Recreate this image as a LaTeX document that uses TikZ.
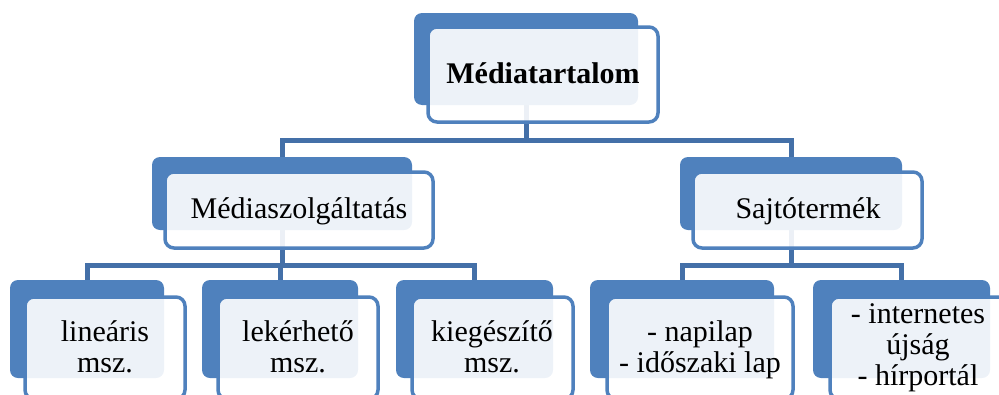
\documentclass[tikz,border=0pt]{standalone}
\usepackage{fontspec}
\setmainfont{Liberation Serif}
\usetikzlibrary{backgrounds}
\definecolor{boxblue}{HTML}{4F81BD}
\definecolor{linkblue}{HTML}{4470A8}
\tikzset{
  boxbase/.style={inner sep=0pt, outer sep=0pt, anchor=north west},
  backbox/.style={boxbase, fill=boxblue, rounded corners=8pt},
  frontbox/.style={boxbase, fill=white, fill opacity=0.9, draw=boxblue, line width=3.5pt, rounded corners=9pt},
  conn/.style={draw=linkblue, line width=5pt, line join=miter},
  lbl/.style={font=\fontsize{30}{31}\selectfont, align=center, anchor=base, inner sep=0pt, text=black},
}
\begin{document}
\begin{tikzpicture}[x=1pt, y=-1pt]
\useasboundingbox (0,0) rectangle (999,394);
\clip (0,0) rectangle (999,394);
\coordinate (ya) at (0,140);
\coordinate (yb) at (0,265);
% back boxes
\node[backbox, minimum width=224pt, minimum height=92pt] (topB) at (414,13) {};
\node[backbox, minimum width=260pt, minimum height=73pt] (mlB) at (152,157) {};
\node[backbox, minimum width=222pt, minimum height=73pt] (mrB) at (680,157) {};
\node[backbox, minimum width=154pt, minimum height=98pt] (b1B) at (10,280) {};
\node[backbox, minimum width=156pt, minimum height=98pt] (b2B) at (202,280) {};
\node[backbox, minimum width=157pt, minimum height=98pt] (b3B) at (396,280) {};
\node[backbox, minimum width=184pt, minimum height=98pt] (b4B) at (590,280) {};
\node[backbox, minimum width=177pt, minimum height=98pt] (b5B) at (813,280) {};
% front boxes
\node[frontbox, minimum width=230pt, minimum height=95pt] (topF) at (428,27) {};
\node[frontbox, minimum width=268pt, minimum height=76pt] (mlF) at (165,172) {};
\node[frontbox, minimum width=229pt, minimum height=76pt] (mrF) at (693,172) {};
\node[frontbox, minimum width=160pt, minimum height=102pt] (b1F) at (25,297) {};
\node[frontbox, minimum width=160pt, minimum height=102pt] (b2F) at (218,297) {};
\node[frontbox, minimum width=161pt, minimum height=102pt] (b3F) at (412,297) {};
\node[frontbox, minimum width=186pt, minimum height=102pt] (b4F) at (607,297) {};
\node[frontbox, minimum width=180pt, minimum height=102pt] (b5F) at (830,297) {};
% connectors behind
\begin{pgfonlayer}{background}
\draw[conn] (topB.south) -- (topB.south |- ya) -| (mlB.north);
\draw[conn] (topB.south) -- (topB.south |- ya) -| (mrB.north);
\draw[conn] (mlB.south) -- (mlB.south |- yb) -| (b1B.north);
\draw[conn] (mlB.south) -- (mlB.south |- yb) -| (b2B.north);
\draw[conn] (mlB.south) -- (mlB.south |- yb) -| (b3B.north);
\draw[conn] (mrB.south) -- (mrB.south |- yb) -| (b4B.north);
\draw[conn] (mrB.south) -- (mrB.south |- yb) -| (b5B.north);
\end{pgfonlayer}
% labels
\node[lbl] (tTop) at (543,83) {\textbf{Médiatartalom}};
\node[lbl] (tMl) at (299,218) {Médiaszolgáltatás};
\node[lbl] (tMr) at (808,218) {Sajtótermék};
\node[lbl] (t1) at (105,372) {lineáris\\msz.};
\node[lbl] (t2) at (298,372) {lekérhető\\msz.};
\node[lbl] (t3) at (492,372) {kiegészítő\\msz.};
\node[lbl] (t4) at (700,372) {- napilap\\- időszaki lap};
\node[lbl] (t5) at (918,385) {- internetes\\újság\\- hírportál};
\end{tikzpicture}
\end{document}
